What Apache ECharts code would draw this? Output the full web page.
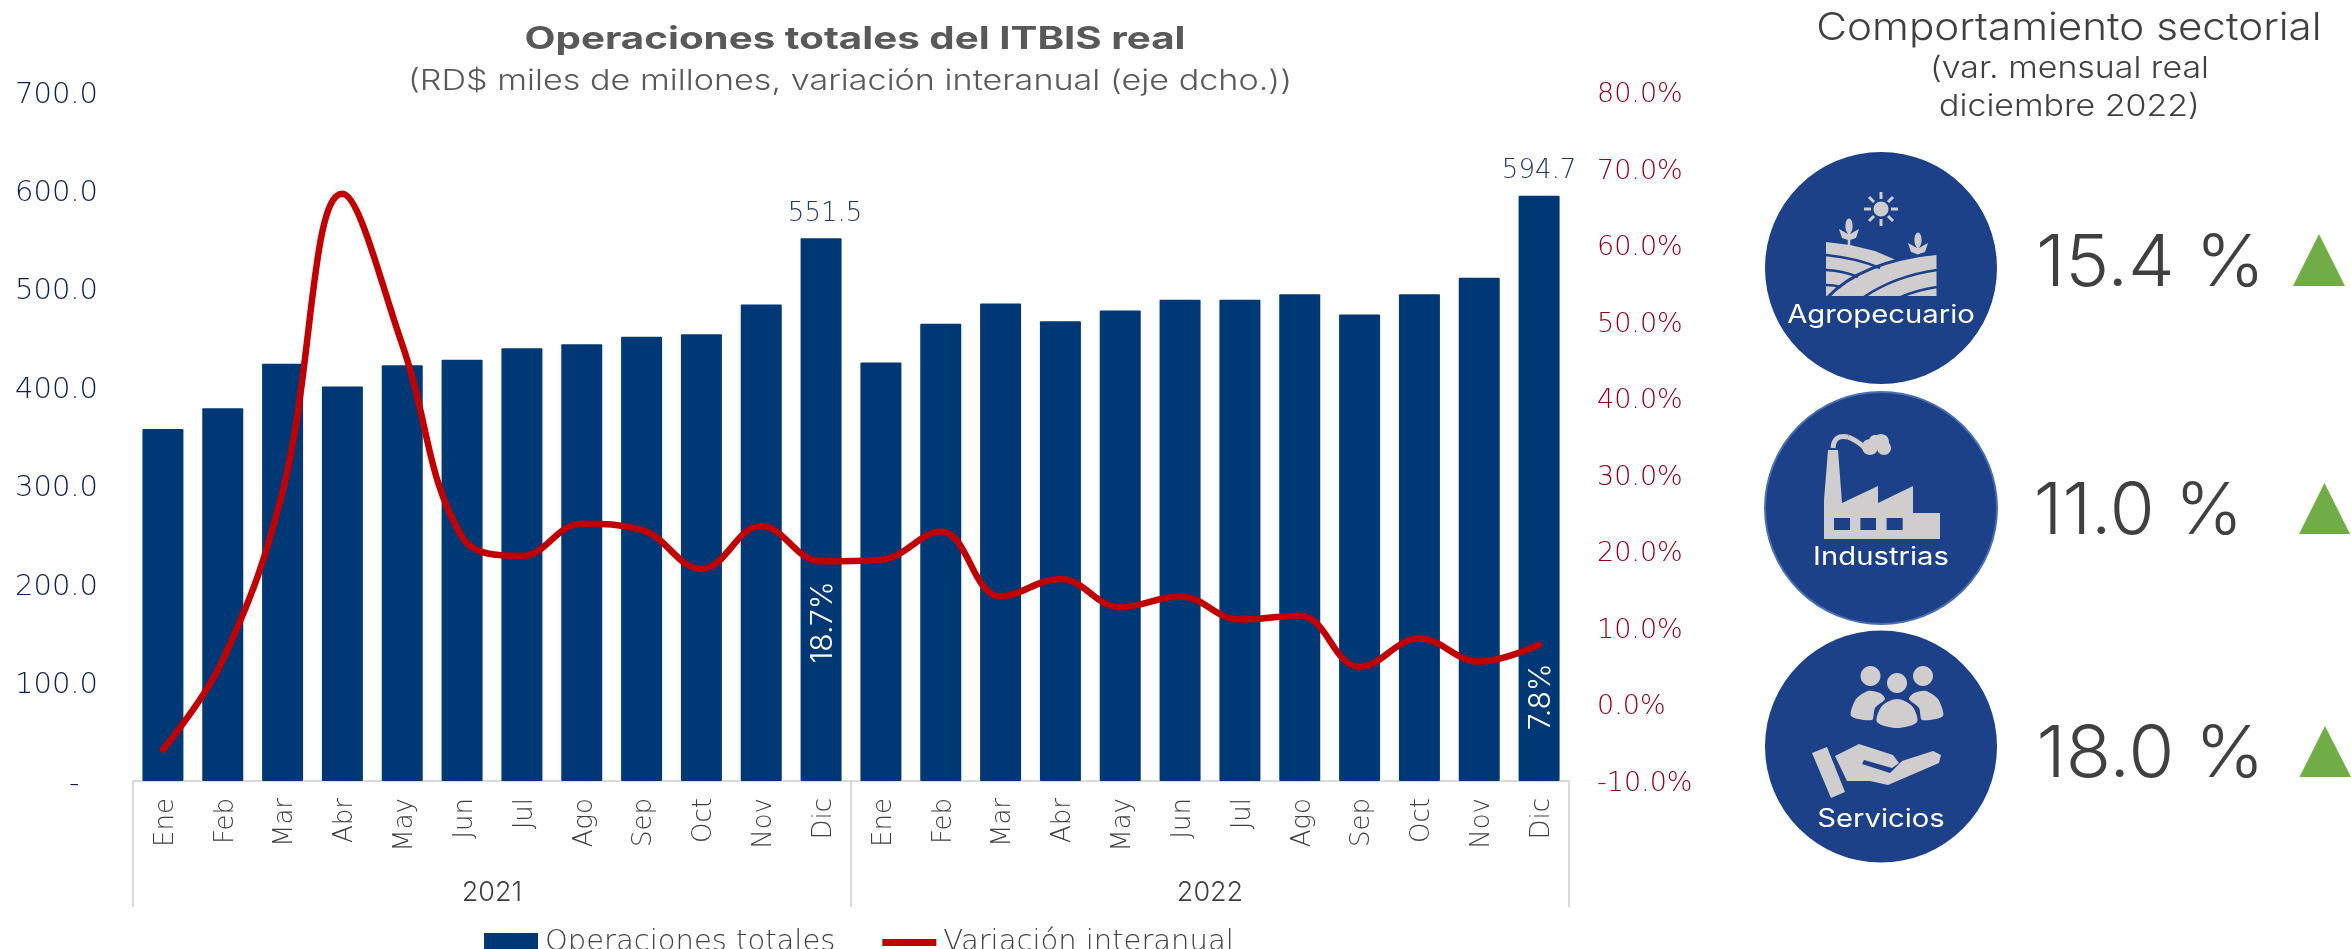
<!DOCTYPE html>
<html>
<head>
<meta charset="utf-8">
<style>html,body{margin:0;padding:0;background:#fff}#c{width:2351px;height:949px}</style>
<script src="https://cdn.jsdelivr.net/npm/echarts@6/dist/echarts.min.js"></script>
</head>
<body>
<div id="c"></div>
<script>
const months = ['Ene','Feb','Mar','Abr','May','Jun','Jul','Ago','Sep','Oct','Nov','Dic','Ene','Feb','Mar','Abr','May','Jun','Jul','Ago','Sep','Oct','Nov','Dic'];
const years = ['2021','2022'];
const operaciones = [357.6,378.6,424,400.8,422.5,428,439.7,443.6,451.3,454,484,551.5,425.3,464.6,485,467,478,489,489,494.5,474,494.5,511.3,594.7];
const variacion = [-5.9,5.8,27.8,66.7,47,21.9,19.4,23.6,22.8,17.7,23.3,18.7,18.9,22.6,14.1,16.4,12.7,14.1,11.1,11.6,4.9,8.6,5.6,7.8];
const barLabelMonths = {11:4, 23:0};
const lineLabelMonths = {11:61, 23:52};
const sectores = ['Agropecuario','Industrias','Servicios'];
const sectorValores = ['15.4 %','11.0 %','18.0 %'];

const F = 'Inter, Lato, sans-serif';
const W = '"DejaVu Sans", sans-serif';
const GRAY = '#cfcdce', BLUE = '#1c4189';

function t(text,x,y,size,fill,sx,weight){
  return {type:'text',silent:true,x:x,y:y,scaleX:sx||1,style:{text:text,font:(weight||300)+' '+size+'px '+F,fill:fill,textAlign:'center',textVerticalAlign:'middle'}};
}
function disc(cx,cy,stroke){
  return {type:'circle',silent:true,shape:{cx:cx,cy:cy,r:116},style:{fill:BLUE,stroke:stroke||BLUE,lineWidth:stroke?2:0}};
}
function poly(points,fill,smooth){ return {type:'polygon',silent:true,shape:{points:points,smooth:smooth||0},style:{fill:fill}}; }
function ell(cx,cy,rx,ry,fill){ return {type:'ellipse',silent:true,shape:{cx:cx,cy:cy,rx:rx,ry:ry},style:{fill:fill||GRAY}}; }
function bez(x1,y1,cx,cy,x2,y2,w,c){ return {type:'bezierCurve',silent:true,shape:{x1:x1,y1:y1,cpx1:cx,cpy1:cy,x2:x2,y2:y2},style:{stroke:c||BLUE,lineWidth:w||2.5,fill:null}}; }
function ray(x1,y1,x2,y2){ return {type:'line',silent:true,shape:{x1:x1,y1:y1,x2:x2,y2:y2},style:{stroke:GRAY,lineWidth:3}}; }
function plant(x,top,bot){
  return [
    {type:'line',silent:true,shape:{x1:x,y1:top+10,x2:x,y2:bot},style:{stroke:GRAY,lineWidth:2.5}},
    ell(x,top+7,3.6,7.5),
    poly([[x-10,top+10],[x-7,top+19],[x-1,top+21],[x-1,top+15]],GRAY),
    poly([[x+10,top+10],[x+7,top+19],[x+1,top+21],[x+1,top+15]],GRAY)
  ];
}

const farm = [].concat(
  [ell(1881,209,7.5,7.5), ray(1881,192,1881,199), ray(1881,219,1881,226), ray(1864,209,1871,209), ray(1891,209,1898,209),
   ray(1869,197,1874,202), ray(1893,197,1888,202), ray(1869,221,1874,216), ray(1893,221,1888,216)],
  plant(1849,219,245), plant(1918,233,258),
  [poly([[1826,242],[1850,245],[1875,251],[1896,260],[1915,257],[1936.5,255],[1936.5,296],[1826,296]],GRAY),
   bez(1827,298,1860,262,1937,253,3.2),
   bez(1826,255,1856,258,1880,268),
   bez(1826,270,1844,271,1858,277),
   bez(1826,285,1834,285,1841,287),
   bez(1864,297,1895,276,1937,270),
   bez(1901,297,1917,290,1937,287)]
);
const factory = [
  poly([[1824,539],[1824,500],[1828,450],[1838,450],[1842,503],[1878,486],[1878,503],[1913,486],[1913,513],[1940,513],[1940,539]],GRAY),
  poly([[1834,518],[1850,518],[1850,530],[1834,530]],BLUE),
  poly([[1860.4,518],[1876,518],[1876,530],[1860.4,530]],BLUE),
  poly([[1886.6,518],[1902.7,518],[1902.7,530],[1886.6,530]],BLUE),
  bez(1833,448,1834,434,1848,437,5,GRAY),
  bez(1848,437,1856,440,1864,447,5,GRAY),
  ell(1870,447,8,8), ell(1881,442,8,8), ell(1884,448,7,7), ell(1875,441,6,6)
];
const people = [
  ell(1870.5,676,10,10), ell(1923,676,10,10), ell(1897,683,10,10),
  poly([[1851,716],[1856,699],[1868,691],[1880,693],[1885,699],[1875,708],[1872,720]],GRAY,0.25),
  poly([[1943,716],[1938,699],[1926,691],[1914,693],[1909,699],[1919,708],[1922,720]],GRAY,0.25),
  poly([[1877,722],[1882,706],[1897,699],[1912,706],[1917,722],[1897,728]],GRAY,0.3),
  poly([[1812,753],[1827,747],[1845,792],[1831,798]],GRAY),
  poly([[1835,756],[1859,744],[1893,755],[1899,763],[1892,768],[1864,760],[1862,764],[1890,773],[1902,761],[1933,751],[1941,755],[1939,763],[1888,785],[1870,781],[1847,781]],GRAY)
];

const panelText = [
  t('Comportamiento sectorial',2069,29,38,'#404040',1.11),
  t('(var. mensual real',2069.5,69,30,'#404040',1.13),
  t('diciembre 2022)',2069.5,107,30,'#404040',1.13)
];
const chartTitles = [
  t('Operaciones totales del ITBIS real',855,40,31,'#595959',1.3,700),
  t('(RD$ miles de millones, variación interanual (eje dcho.))',850,82,28,'#595959',1.22)
];

const sideGraphics = [].concat(
  chartTitles, panelText,
  [disc(1881,268), disc(1881,508,'#4a6fb0'), disc(1881,746.5)],
  farm, factory, people,
  [t(sectores[0],1881,315,25,'#fff',1.17,400),
   t(sectores[1],1881,557,25,'#fff',1.17,400),
   t(sectores[2],1881,819,25,'#fff',1.17,400)],
  [t(sectorValores[0],2150.5,264,72,'#404040',1.03),
   t(sectorValores[1],2138.5,512,72,'#404040',1.01),
   t(sectorValores[2],2150.5,755,72,'#404040',1.03)],
  [poly([[2293,286],[2319,234],[2345,286]],'#70ad47'),
   poly([[2299,534],[2324.5,483],[2350,534]],'#70ad47'),
   poly([[2299.5,777],[2325,726],[2351,777]],'#70ad47')]
);

const chart = echarts.init(document.getElementById('c'),null,{renderer:'canvas'});
chart.setOption({
  animation:false,
  backgroundColor:'#fff',
  textStyle:{fontFamily:F},
  legend:{
    left:484,top:928,padding:0,itemGap:47,itemWidth:54,itemHeight:19,
    textStyle:{fontFamily:W,fontWeight:200,fontSize:29,color:'#404040',padding:[0,0,0,2]},
    data:[
      {name:'Operaciones totales',icon:'rect'},
      {name:'Variación interanual',icon:'path://M0 0 L0.01 0 L0 0.01 Z M0 6 L54 6 L54 13 L0 13 Z M54 19 L53.99 19 L54 18.99 Z'}
    ]
  },
  grid:{left:133,right:782,top:92,bottom:168,containLabel:false},
  xAxis:[
    {type:'category',data:months,position:'bottom',axisTick:{show:false},
     axisLine:{onZero:false,lineStyle:{color:'#d9d9d9',width:2}},
     axisLabel:{rotate:90,interval:0,margin:17,verticalAlign:'top',lineHeight:6,color:'#404040',fontFamily:W,fontWeight:200,fontSize:26}},
    {type:'category',data:years,position:'bottom',
     axisLine:{show:false,onZero:false},
     axisTick:{show:true,length:126,lineStyle:{color:'#d9d9d9',width:2}},
     axisLabel:{margin:98,interval:0,color:'#404040',fontFamily:F,fontWeight:300,fontSize:27}}
  ],
  yAxis:[
    {type:'value',min:0,max:700,interval:100,splitLine:{show:false},axisLine:{show:false},axisTick:{show:false},
     axisLabel:{margin:35,verticalAlign:'top',lineHeight:6,color:'#0a2050',fontFamily:W,fontWeight:200,fontSize:29,align:'right',
       formatter:v=>v===0?'-  ':v.toFixed(1)}},
    {type:'value',min:-10,max:80,interval:10,position:'right',splitLine:{show:false},axisLine:{show:false},axisTick:{show:false},
     axisLabel:{margin:28,verticalAlign:'top',lineHeight:6,color:'#8f0018',fontFamily:W,fontWeight:200,fontSize:27,align:'left',
       formatter:v=>v.toFixed(1)+'%'}}
  ],
  series:[
    {name:'Operaciones totales',type:'bar',xAxisIndex:0,yAxisIndex:0,barWidth:41,
     itemStyle:{color:'#003876',borderRadius:1},
     data:operaciones.map((v,i)=>barLabelMonths[i]!==undefined?
       {value:v,label:{show:true,position:'top',distance:11,offset:[barLabelMonths[i],0],formatter:p=>p.value.toFixed(1),color:'#1f3864',fontFamily:W,fontWeight:200,fontSize:26}}:v)},
    {name:'Variación interanual',type:'line',xAxisIndex:0,yAxisIndex:1,smooth:0.4,symbol:'circle',symbolSize:1,showSymbol:true,
     lineStyle:{color:'#c00000',width:6.5,cap:'round'},itemStyle:{color:'#c00000'},
     data:variacion.map((v,i)=>lineLabelMonths[i]!==undefined?
       {value:v,label:{show:true,position:'inside',rotate:90,offset:[-lineLabelMonths[i],2],formatter:p=>p.value.toFixed(1)+'%',color:'#fff',fontFamily:F,fontWeight:300,fontSize:30}}:v)}
  ],
  graphic:{elements:sideGraphics}
});
</script>
</body>
</html>
